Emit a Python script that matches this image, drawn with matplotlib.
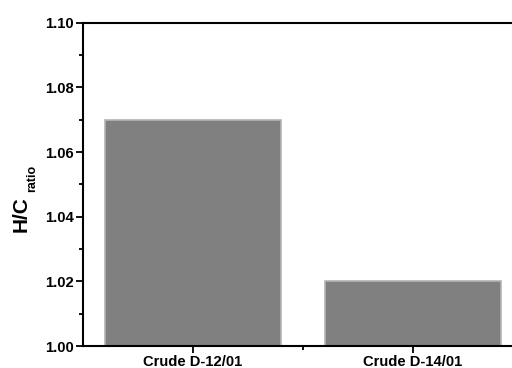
import matplotlib
matplotlib.use("Agg")
import matplotlib.pyplot as plt
from matplotlib.ticker import MultipleLocator, FixedLocator, FormatStrFormatter

samples = ["Crude D-12/01", "Crude D-14/01"]
hc_ratio = [1.07, 1.02]

plt.rcParams['font.family'] = 'Liberation Sans'
plt.rcParams['font.weight'] = 'bold'

fig = plt.figure(figsize=(5.12, 3.68), dpi=100)
# axes runs past the right edge, like the original
ax = fig.add_axes([83/512, 1 - 346/368, 440/512, (346 - 22.7)/368])

x = [1, 2]
ax.bar(x, hc_ratio, width=0.8, color='#808080', edgecolor='#b4b4b4', linewidth=1.2)

ax.set_xlim(0.5, 2.5)
ax.set_ylim(1.0, 1.1)
ax.set_xticks(x)
ax.set_xticklabels(samples, fontsize=10.6, fontweight='bold')
ax.xaxis.set_minor_locator(FixedLocator([1.5]))
ax.yaxis.set_major_locator(MultipleLocator(0.02))
ax.yaxis.set_minor_locator(MultipleLocator(0.01))
ax.yaxis.set_major_formatter(FormatStrFormatter('%.2f'))
for lab in ax.get_yticklabels():
    lab.set_fontsize(10.7)
    lab.set_fontweight('bold')

ax.tick_params(axis='both', which='major', direction='out', length=5, width=1.3, pad=1.5)
ax.tick_params(axis='both', which='minor', direction='out', length=3, width=1.3)
for s in ax.spines.values():
    s.set_linewidth(1.5)

# y label: H/C with a lowered "ratio" subscript
fig.text(21.5/512, 1 - 214.5/368, 'H/C', fontsize=15, fontweight='bold',
         rotation=90, ha='center', va='center')
fig.text(32/512, 1 - 178.5/368, 'ratio', fontsize=9, fontweight='bold',
         rotation=90, ha='center', va='center')

plt.savefig("out.png", dpi=100)
